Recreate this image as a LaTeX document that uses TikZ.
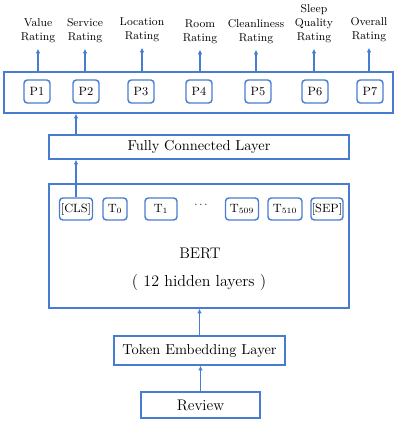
\documentclass[tikz,border=0pt]{standalone}
\usepackage{tikz}
\usetikzlibrary{arrows.meta,positioning}
\definecolor{bblue}{RGB}{72,124,208}

\begin{document}
\begin{tikzpicture}[
    x=0.75pt, y=-0.75pt,
    box/.style={draw=bblue, line width=1.1pt, inner sep=0pt, align=center, font=\fontsize{10.8}{13}\selectfont},
    tok/.style={draw=bblue, line width=1.1pt, rounded corners=2.5pt, minimum height=16.5pt, inner sep=0pt, font=\fontsize{9}{11}\selectfont},
    lab/.style={align=center, font=\fontsize{8.5}{10.5}\selectfont, inner sep=1pt},
    arrow/.style={-{Latex[length=3.5pt,width=3.5pt]}, bblue, line width=1.1pt}
]
\useasboundingbox (0,0) rectangle (400,425);
% output ratings
\node[lab] (r1) at (38,31) {Value\\Rating};
\node[lab] (r2) at (85,31) {Service\\Rating};
\node[lab] (r3) at (142,30) {Location\\Rating};
\node[lab] (r4) at (200,32) {Room\\Rating};
\node[lab] (r5) at (256,32) {Cleanliness\\Rating};
\node[lab] (r6) at (314,24) {Sleep\\Quality\\Rating};
\node[lab] (r7) at (369,30) {Overall\\Rating};
% output layer
\node[box, minimum width=291.75pt, minimum height=30.75pt] (pout) at (198.5,92.5) {};
\node[tok, minimum width=19.5pt, minimum height=17.25pt] (p1) at (37,91.5) {P1};
\node[tok, minimum width=19.5pt, minimum height=17.25pt] (p2) at (86,91.5) {P2};
\node[tok, minimum width=19.5pt, minimum height=17.25pt] (p3) at (141,91.5) {P3};
\node[tok, minimum width=19.5pt, minimum height=17.25pt] (p4) at (199,91.5) {P4};
\node[tok, minimum width=19.5pt, minimum height=17.25pt] (p5) at (258,91.5) {P5};
\node[tok, minimum width=19.5pt, minimum height=17.25pt] (p6) at (315,91.5) {P6};
\node[tok, minimum width=19.5pt, minimum height=17.25pt] (p7) at (370,91.5) {P7};
\foreach \i in {1,...,7}
  \draw[arrow] (pout.north -| r\i) -- ([yshift=-3pt]r\i.south);
% fully connected layer
\node[box, minimum width=225pt, minimum height=18pt] (fc) at (199,147) {Fully Connected Layer};
% BERT
\node[box, minimum width=225pt, minimum height=93pt] (bert) at (199,246) {};
\node[tok, minimum width=24.75pt] (cls) at (76,209) {[CLS]};
\node[tok, minimum width=18pt] (t0) at (115,209) {T$_{\mathrm{0}}$};
\node[tok, minimum width=24pt] (t1) at (161,209) {T$_{\mathrm{1}}$};
\node[font=\footnotesize, inner sep=0pt] (dots) at (201,205) {$\cdots$};
\node[tok, minimum width=24.75pt] (t509) at (242,209) {T$_{\mathrm{509}}$};
\node[tok, minimum width=25.5pt] (t510) at (285,209) {T$_{\mathrm{510}}$};
\node[tok, minimum width=24pt] (sep) at (327,209) {[SEP]};
\node[font=\fontsize{11.5}{13}\selectfont] (bertlab) at (200,253) {BERT};
\node[font=\fontsize{12}{14}\selectfont] (hid) at (199,283) {(\hspace{0.35em}12 hidden layers\hspace{0.35em})};
% embedding and input
\node[box, minimum width=128.25pt, minimum height=21.75pt] (te) at (199.5,350.5) {Token Embedding Layer};
\node[box, minimum width=89.25pt, minimum height=19.5pt, font=\fontsize{11.5}{13}\selectfont] (rev) at (200.5,405) {Review};
\draw[arrow] (cls.north) -- (cls.north |- fc.south);
\draw[arrow] (fc.north -| cls) -- (pout.south -| cls);
\draw[arrow] (te.north) -- (bert.south -| te);
\draw[arrow] (rev.north) -- (te.south -| rev);
\end{tikzpicture}
\end{document}
